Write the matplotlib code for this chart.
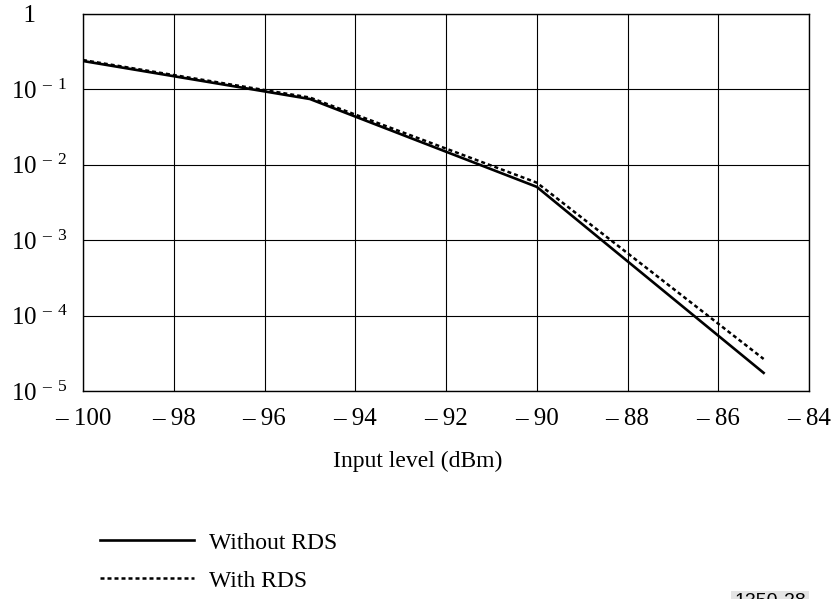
#!/usr/bin/env python

import matplotlib
matplotlib.use("Agg")
import matplotlib.pyplot as plt

fontsize = 17
tfontsize = 18
matplotlib.rcParams["font.family"] = "Liberation Serif"
matplotlib.rcParams["mathtext.fontset"] = "custom"
matplotlib.rcParams["mathtext.rm"] = "Liberation Serif"
matplotlib.rcParams["mathtext.it"] = "Liberation Serif:italic"
matplotlib.rcParams["axes.unicode_minus"] = True

# input level (dBm) and error rate for each curve
level_without = [-100, -95, -90, -85]
rate_without = [0.238, 0.0746, 0.0051, 1.74e-5]

level_with = [-100, -95, -90, -85]
rate_with = [0.245, 0.078, 0.0058, 2.66e-5]

xticks = [-100, -98, -96, -94, -92, -90, -88, -86, -84]
xticklabels = ["\u2013 {}".format(-v) for v in xticks]

yticks = [1, 1e-1, 1e-2, 1e-3, 1e-4, 1e-5]
yticklabels = ["  1"] + ["$\\mathregular{10^{\\ \\,\u2013\\ \\,%d}}$" % k
                         for k in range(1, 6)]


def main():

    fig = plt.figure(figsize=(8.4, 5.99), dpi=100)
    ax = fig.add_axes([83 / 840, 1 - 391 / 599, 726 / 840, 377 / 599])

    ax.plot(level_without, rate_without, color="black", linewidth=1.9,
            label="Without RDS")
    ax.plot(level_with, rate_with, color="black", linewidth=1.8,
            linestyle=(0, (1.6, 1.2)), label="With RDS")

    ax.set_yscale("log")
    ax.set_xlim(-100, -84)
    ax.set_ylim(1e-5, 1)
    ax.minorticks_off()

    ax.set_xticks(xticks)
    ax.set_xticklabels(xticklabels, fontsize=tfontsize)
    ax.set_yticks(yticks)
    ax.set_yticklabels(yticklabels, fontsize=tfontsize)
    for label in ax.get_yticklabels():
        label.set_horizontalalignment("left")

    ax.tick_params(axis="both", length=0)
    ax.tick_params(axis="x", pad=12)
    ax.tick_params(axis="y", pad=51.5)

    ax.grid(True, color="black", linewidth=0.8)
    for spine in ax.spines.values():
        spine.set_linewidth(1.0)

    ax.set_xlabel("Input level (dBm)", fontsize=fontsize, va="top")
    ax.xaxis.set_label_coords(0.461, -0.159)

    fig.legend(loc="upper left", bbox_to_anchor=(100 / 840, 1 - 532 / 599),
               frameon=False, fontsize=fontsize, handlelength=4,
               handletextpad=0.6, labelspacing=0.7, borderpad=0,
               borderaxespad=0)

    fig.text(770 / 840, 1 - 602 / 599, "1350-28", fontsize=14,
             family="Liberation Sans", ha="center", va="center",
             bbox=dict(facecolor="#e4e4e4", edgecolor="none", pad=2))

    fig.savefig("out.png", dpi=100)


if __name__ == "__main__":
    main()
